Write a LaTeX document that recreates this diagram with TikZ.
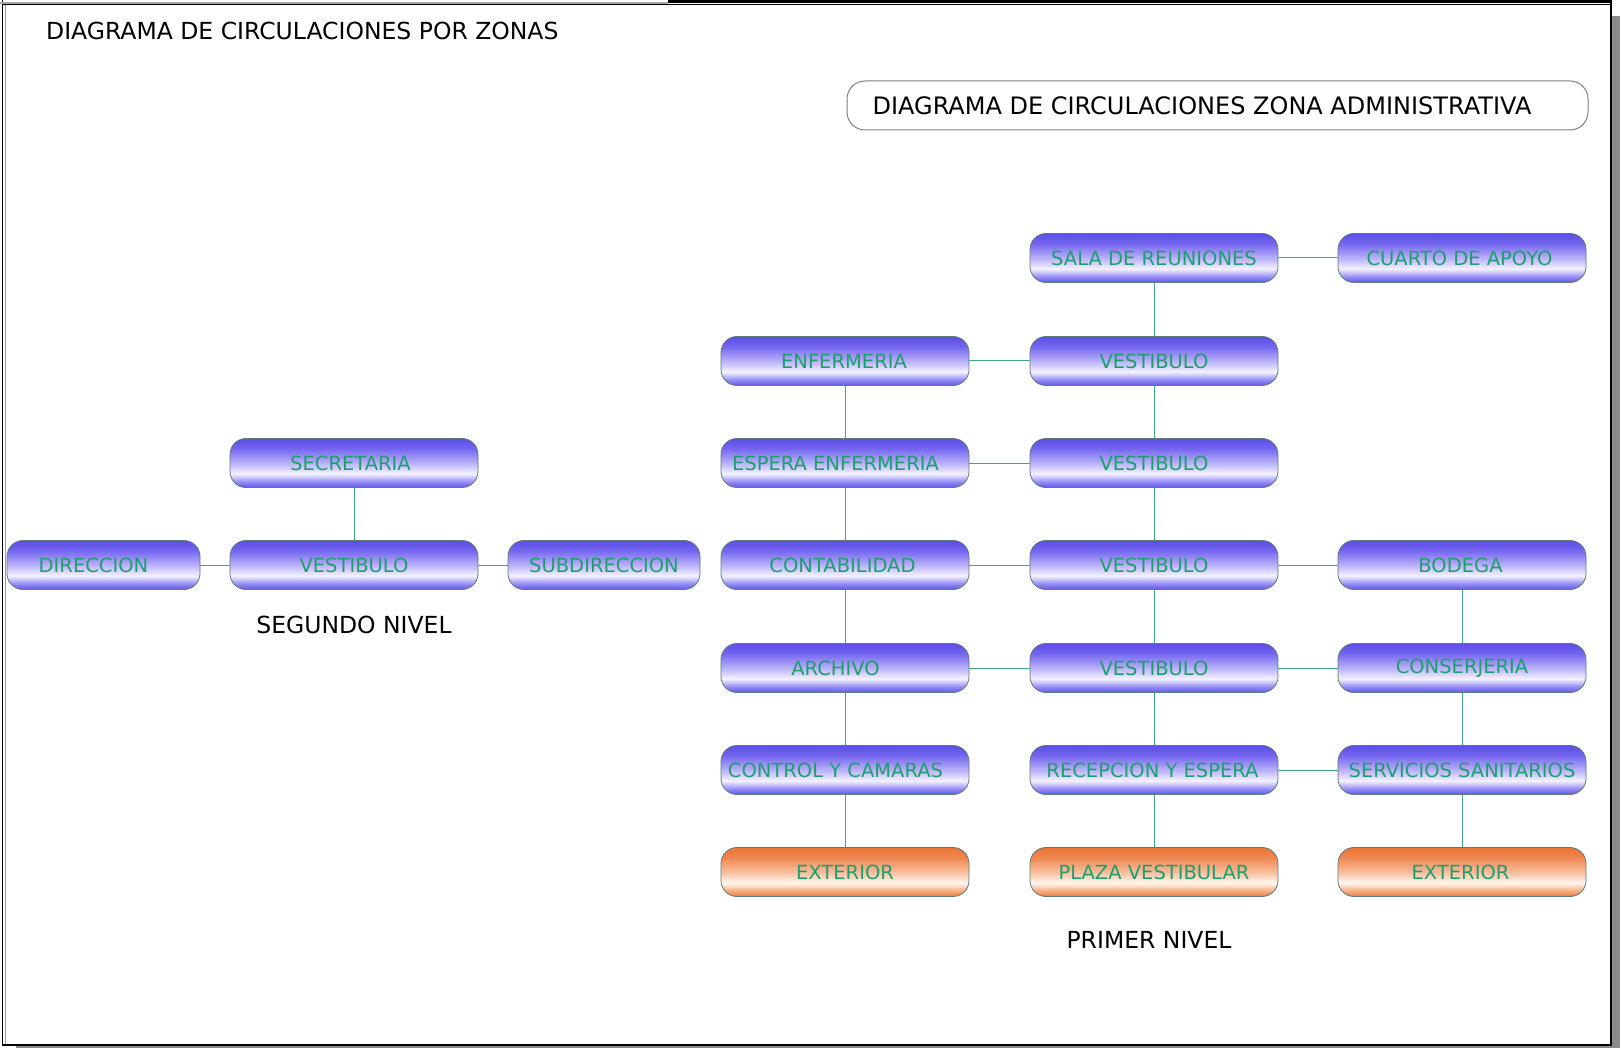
\documentclass[tikz,border=0pt]{standalone}
\usepackage{fontspec}
\setmainfont{DejaVu Sans}
\definecolor{bA}{HTML}{6457EC}
\definecolor{bB}{HTML}{8C82F3}
\definecolor{bC}{HTML}{F4F2FF}
\definecolor{bD}{HTML}{B9B1F9}
\definecolor{bE}{HTML}{7365EF}
\definecolor{bF}{HTML}{5C4DE8}
\definecolor{oA}{HTML}{EE7A3C}
\definecolor{oB}{HTML}{F4A678}
\definecolor{oC}{HTML}{FFF6EE}
\definecolor{oD}{HTML}{F8BE9C}
\definecolor{oE}{HTML}{F08650}
\definecolor{oF}{HTML}{EC7432}
\definecolor{txtc}{HTML}{1C9F6C}
\definecolor{linec}{HTML}{3FA68A}
\definecolor{bordc}{HTML}{5E7C78}
\definecolor{shadowc}{HTML}{8A8A8A}
\pgfdeclareverticalshading{bluegrad}{100bp}{color(0bp)=(bA); color(25bp)=(bA); color(30bp)=(bB); color(39bp)=(bC); color(50bp)=(bD); color(65bp)=(bE); color(75bp)=(bF); color(100bp)=(bF)}
\pgfdeclareverticalshading{orangegrad}{100bp}{color(0bp)=(oA); color(25bp)=(oA); color(30bp)=(oB); color(39bp)=(oC); color(50bp)=(oD); color(65bp)=(oE); color(75bp)=(oF); color(100bp)=(oF)}
\begin{document}
\begin{tikzpicture}[x=1pt,y=-1pt,
  room/.style={rounded corners=16pt, minimum width=248pt, minimum height=49pt, inner sep=0pt,
    draw=bordc, line width=0.8pt, shade, shading=bluegrad, text=txtc, font=\fontsize{19.5}{22}\selectfont},
  outroom/.style={room, shading=orangegrad},
  conn/.style={draw=linec, line width=1pt},
  plain/.style={inner sep=0pt, text=black, font=\fontsize{23.5}{26}\selectfont}]
\useasboundingbox (0,0) rectangle (1620,1048);
\fill[white] (0,0) rectangle (1620,1048);
% frame
\fill[shadowc] (1612,16) rectangle (1620,1048);
\fill[shadowc] (16,1046) rectangle (1620,1048);
\draw[black, line width=1.5pt] (2.5,0) -- (2.5,1045.5);
\draw[gray!80, line width=1.2pt] (5.2,5) -- (5.2,1044);
\draw[black, line width=1.5pt] (2,1045.2) -- (1611,1045.2) -- (1611,2);
\draw[gray!70, line width=1.2pt] (0,3) -- (668,3);
\draw[black, line width=1pt] (2,4.6) -- (1611,4.6);
\draw[black, line width=2.5pt] (668,1.5) -- (1612,1.5);
% titles
\node[plain, anchor=west] (title) at (46,31) {DIAGRAMA DE CIRCULACIONES POR ZONAS};
\node[plain, font=\fontsize{24}{26}\selectfont, draw=gray, line width=1pt, rounded corners=18pt, minimum width=741pt, minimum height=49pt, fill=white] (hdr) at (1217.5,105.5) {DIAGRAMA DE CIRCULACIONES ZONA ADMINISTRATIVA\kern 31pt};
% first level nodes
\node[room] (sala) at (1154,258) {SALA DE REUNIONES};
\node[room] (apoyo) at (1462,258) {CUARTO DE APOYO\kern 5pt};
\node[room] (enf) at (845,361) {ENFERMERIA\kern 2pt};
\node[room] (vest1) at (1154,361) {VESTIBULO};
\node[room] (espera) at (845,463) {ESPERA ENFERMERIA\kern 19pt};
\node[room] (vest2) at (1154,463) {VESTIBULO};
\node[room] (conta) at (845,565) {CONTABILIDAD\kern 5pt};
\node[room] (vest3) at (1154,565) {VESTIBULO};
\node[room] (bodega) at (1462,565) {BODEGA\kern 3pt};
\node[room] (archivo) at (845,668) {ARCHIVO\kern 19pt};
\node[room] (vest4) at (1154,668) {VESTIBULO};
\node[room] (conserj) at (1462,668) {CONSERJERIA};
\node[room] (control) at (845,770) {CONTROL Y CAMARAS\kern 19pt};
\node[room] (recep) at (1154,770) {RECEPCION Y ESPERA\kern 3pt};
\node[room] (serv) at (1462,770) {SERVICIOS SANITARIOS};
\node[outroom] (ext1) at (845,872) {EXTERIOR};
\node[outroom] (plaza) at (1154,872) {PLAZA VESTIBULAR};
\node[outroom] (ext2) at (1462,872) {EXTERIOR\kern 3pt};
% second level nodes
\node[room] (sec) at (354,463) {SECRETARIA\kern 7pt};
\node[room] (vest0) at (354,565) {VESTIBULO};
\node[room, minimum width=193pt] (dir) at (103.5,565) {DIRECCION\kern 20pt};
\node[room, minimum width=192pt] (sub) at (604,565) {SUBDIRECCION};
% level labels
\node[plain] (seg) at (354,625) {SEGUNDO NIVEL};
\node[plain] (prim) at (1149,940) {PRIMER NIVEL};
% connectors first level
\draw[conn] (sala) -- (apoyo);
\draw[conn] (sala) -- (vest1);
\draw[conn] (enf) -- (vest1);
\draw[conn] (enf) -- (espera);
\draw[conn] (vest1) -- (vest2);
\draw[conn] (espera) -- (vest2);
\draw[conn] (espera) -- (conta);
\draw[conn] (vest2) -- (vest3);
\draw[conn] (conta) -- (vest3);
\draw[conn] (vest3) -- (bodega);
\draw[conn] (conta) -- (archivo);
\draw[conn] (vest3) -- (vest4);
\draw[conn] (bodega) -- (conserj);
\draw[conn] (archivo) -- (vest4);
\draw[conn] (vest4) -- (conserj);
\draw[conn] (archivo) -- (control);
\draw[conn] (vest4) -- (recep);
\draw[conn] (conserj) -- (serv);
\draw[conn] (recep) -- (serv);
\draw[conn] (control) -- (ext1);
\draw[conn] (recep) -- (plaza);
\draw[conn] (serv) -- (ext2);
% connectors second level
\draw[conn] (sec) -- (vest0);
\draw[conn] (dir) -- (vest0);
\draw[conn] (vest0) -- (sub);
\end{tikzpicture}
\end{document}
